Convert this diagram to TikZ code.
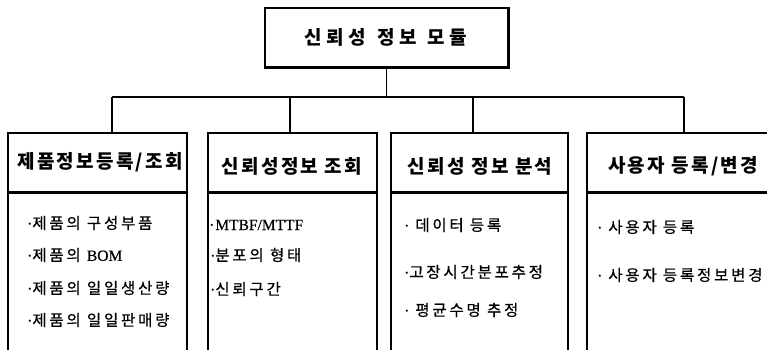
\documentclass[tikz,border=0pt]{standalone}
\usepackage{fontspec}
\newfontfamily\kohead{Noto Sans CJK KR}[LetterSpace=12]
\newfontfamily\kotop{Noto Sans CJK KR}[LetterSpace=24]
\newfontfamily\koitem{Noto Sans CJK KR}[LetterSpace=18,FakeBold=0.6]
\newfontfamily\latitem{Liberation Serif}[FakeBold=0.6]
\newcommand{\dotmark}{{\latitem ·}}
\begin{document}
\begin{tikzpicture}[x=1pt,y=-1pt,
  frame/.style={draw, line width=1.1pt, inner sep=0pt},
  hd/.style={font=\kohead\bfseries\fontsize{19}{21}\selectfont},
  tophd/.style={font=\kotop\bfseries\fontsize{19}{21}\selectfont},
  it/.style={font=\koitem\fontsize{15.5}{17}\selectfont, anchor=west, inner sep=0pt},
  conn/.style={line width=1.1pt},
  thick line/.style={line width=2.3pt}]
\useasboundingbox (0,0) rectangle (767,349);
\clip (0,0) rectangle (767,349);
% top box
\node[frame, minimum width=243pt, minimum height=59pt] (top) at (386.5,37.5) {};
\node[tophd] (toptext) at (386,37) {신뢰성\hspace{11pt}정보\hspace{11pt}모듈};
\draw[line width=2.4pt] (top.north east) -- (top.south east) -- (top.south west);
% headers
\node[frame, minimum width=179pt, minimum height=59pt] (h1) at (97.5,162.5) {};
\node[frame, minimum width=169pt, minimum height=59pt] (h2) at (292.5,162.5) {};
\node[frame, minimum width=177pt, minimum height=59pt] (h3) at (479.5,162.5) {};
\node[frame, minimum width=220pt, minimum height=59pt] (h4) at (697,162.5) {};
\node[hd] (t1) at (100,162) {제품정보등록/조회};
\node[hd] (t2) at (292,166) {신뢰성정보 조회};
\node[hd] (t3) at (480,166) {신뢰성 정보 분석};
\node[hd] (t4) at (683,166) {사용자 등록/변경};
% bodies
\node[frame, minimum width=179pt, minimum height=170pt, anchor=north] (b1) at (h1.south) {};
\node[frame, minimum width=169pt, minimum height=170pt, anchor=north] (b2) at (h2.south) {};
\node[frame, minimum width=177pt, minimum height=170pt, anchor=north] (b3) at (h3.south) {};
\node[frame, minimum width=220pt, minimum height=170pt, anchor=north] (b4) at (h4.south) {};
\foreach \h in {h1,h2,h3,h4}{\draw[thick line] (\h.south west) -- (\h.south east);}
% connectors
\coordinate (k1) at (112,97);
\coordinate (k2) at (290,97);
\coordinate (k3) at (473,97);
\coordinate (k4) at (684,97);
\draw[conn] (top.south) -- (top.south |- k1);
\draw[conn] (k1) -- (k4);
\draw[conn] (k1) -- (k1 |- h1.north);
\draw[conn] (k2) -- (k2 |- h2.north);
\draw[conn] (k3) -- (k3 |- h3.north);
\draw[conn] (k4) -- (k4 |- h4.north);
% items
\node[it] (i11) at (27,223) {\dotmark 제품의 구성부품};
\node[it] (i12) at (27,255) {\dotmark 제품의 {\latitem BOM}};
\node[it] (i13) at (27,288) {\dotmark 제품의 일일생산량};
\node[it] (i14) at (27,320) {\dotmark 제품의 일일판매량};
\node[it] (i21) at (209,225) {\dotmark\hspace{1pt}{\latitem MTBF/MTTF}};
\node[it] (i22) at (210,255) {\dotmark 분포의 형태};
\node[it] (i23) at (210,289) {\dotmark 신뢰구간};
\node[it] (i31) at (404,225) {\dotmark\hspace{6pt}데이터 등록};
\node[it] (i32) at (404,272) {\dotmark 고장시간분포추정};
\node[it] (i33) at (404,310) {\dotmark\hspace{6pt}평균수명 추정};
\node[it] (i41) at (597,227) {\dotmark\hspace{6pt}사용자 등록};
\node[it] (i42) at (597,275) {\dotmark\hspace{6pt}사용자 등록정보변경};
\end{tikzpicture}
\end{document}
